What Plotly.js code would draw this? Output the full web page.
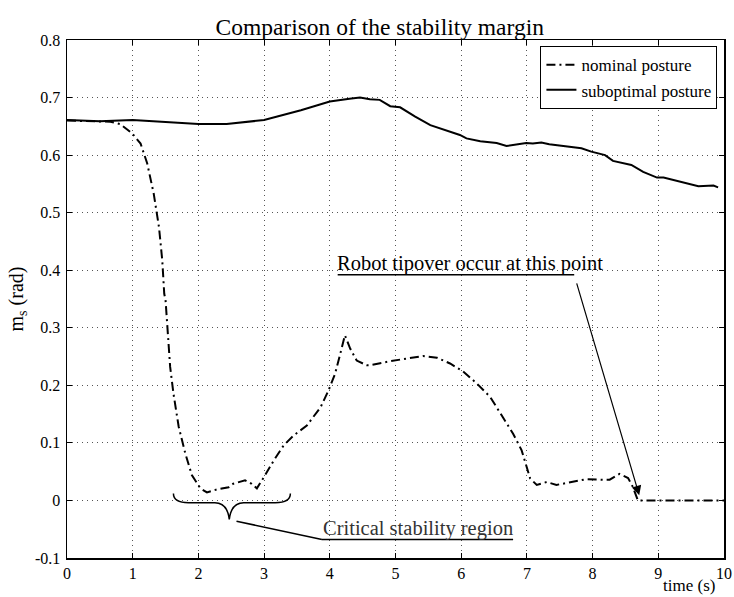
<!DOCTYPE html>
<html>
<head>
<meta charset="utf-8">
<script src="https://cdn.plot.ly/plotly-3.0.1.min.js"></script>
<style>
html,body{margin:0;padding:0;background:#fff;}
#chart{width:734px;height:597px;}
</style>
</head>
<body>
<div id="chart"></div>
<script>
// ---- data ----
const nominalTime = [0, 0.3, 0.66, 0.81, 0.99, 1.12, 1.22, 1.32, 1.40, 1.45, 1.48, 1.50, 1.53, 1.57, 1.62, 1.70, 1.80, 1.90, 2.03, 2.13, 2.28, 2.46, 2.53, 2.71, 2.81, 2.89, 3.00, 3.15, 3.30, 3.45, 3.65, 3.86, 3.98, 4.08, 4.16, 4.23, 4.31, 4.41, 4.56, 4.61, 4.92, 5.12, 5.42, 5.63, 5.83, 6.03, 6.24, 6.44, 6.64, 6.79, 6.92, 6.99, 7.05, 7.15, 7.30, 7.45, 7.66, 7.91, 8.16, 8.26, 8.41, 8.54, 8.61, 8.69, 9.0, 9.5, 10.0];
const nominalMargin = [0.660, 0.659, 0.658, 0.654, 0.638, 0.620, 0.586, 0.533, 0.475, 0.417, 0.359, 0.348, 0.290, 0.232, 0.186, 0.128, 0.082, 0.044, 0.021, 0.014, 0.019, 0.023, 0.029, 0.035, 0.029, 0.021, 0.041, 0.070, 0.096, 0.113, 0.130, 0.162, 0.191, 0.220, 0.255, 0.287, 0.264, 0.243, 0.235, 0.235, 0.242, 0.246, 0.251, 0.248, 0.238, 0.224, 0.203, 0.180, 0.142, 0.116, 0.087, 0.058, 0.038, 0.027, 0.032, 0.027, 0.032, 0.037, 0.036, 0.036, 0.046, 0.039, 0.024, 0.000, 0.000, 0.000, 0.000];

const suboptTime = [0, 0.5, 1.0, 1.5, 2.0, 2.43, 3.0, 3.56, 4.0, 4.30, 4.46, 4.61, 4.76, 4.92, 5.07, 5.30, 5.53, 5.98, 6.08, 6.29, 6.54, 6.69, 6.79, 6.99, 7.09, 7.22, 7.34, 7.55, 7.83, 7.98, 8.19, 8.31, 8.46, 8.59, 8.77, 8.98, 9.08, 9.38, 9.61, 9.84, 9.91];
const suboptMargin = [0.661, 0.659, 0.661, 0.657, 0.654, 0.654, 0.661, 0.678, 0.693, 0.698, 0.700, 0.697, 0.696, 0.685, 0.683, 0.667, 0.652, 0.635, 0.629, 0.624, 0.621, 0.616, 0.618, 0.621, 0.620, 0.622, 0.619, 0.616, 0.612, 0.606, 0.600, 0.590, 0.586, 0.583, 0.571, 0.561, 0.561, 0.552, 0.546, 0.547, 0.544];

const xTickVals = [0, 1, 2, 3, 4, 5, 6, 7, 8, 9, 10];
const xTickText = ['0', '1', '2', '3', '4', '5', '6', '7', '8', '9', '10'];
const yTickVals = [-0.1, 0, 0.1, 0.2, 0.3, 0.4, 0.5, 0.6, 0.7, 0.8];
const yTickText = ['-0.1', '0', '0.1', '0.2', '0.3', '0.4', '0.5', '0.6', '0.7', '0.8'];

const FONT = 'Liberation Serif';

const traces = [
  {
    x: nominalTime, y: nominalMargin, type: 'scatter', mode: 'lines',
    name: 'nominal posture',
    line: {color: '#000', width: 2, dash: '9px,4px,2px,4px'}
  },
  {
    x: suboptTime, y: suboptMargin, type: 'scatter', mode: 'lines',
    name: 'suboptimal posture',
    line: {color: '#000', width: 2}
  }
];

const axisCommon = {
  showline: true, linecolor: '#000', linewidth: 1.5, mirror: 'ticks',
  ticks: 'inside', ticklen: 5, tickcolor: '#000', tickwidth: 1,
  showgrid: true, gridcolor: '#555', gridwidth: 1, griddash: '1px,4px',
  zeroline: false,
  tickfont: {family: FONT, size: 16, color: '#000'}
};

const layout = {
  width: 734, height: 597,
  margin: {l: 67, r: 10, t: 40, b: 39},
  paper_bgcolor: '#fff', plot_bgcolor: '#fff',
  font: {family: FONT, color: '#000'},
  title: {text: 'Comparison of the stability margin', font: {family: FONT, size: 23.5, color: '#000'},
          x: 0.476, xref: 'paper', xanchor: 'center', y: 1, yref: 'paper', yanchor: 'bottom', pad: {b: 5}},
  xaxis: Object.assign({}, axisCommon, {
    range: [0, 10], tickmode: 'array', tickvals: xTickVals, ticktext: xTickText, ticklabelstandoff: 0
  }),
  yaxis: Object.assign({}, axisCommon, {
    range: [-0.1, 0.8], tickmode: 'array', tickvals: yTickVals, ticktext: yTickText, ticklabelstandoff: 2,
    title: {text: 'm<sub>s</sub> (rad)', font: {family: FONT, size: 20, color: '#000'}, standoff: 6}
  }),
  showlegend: true,
  legend: {
    x: 0.99, xanchor: 'right', y: 0.988, yanchor: 'top',
    bgcolor: '#fff', bordercolor: '#000', borderwidth: 1,
    font: {family: FONT, size: 17, color: '#000'},
    itemwidth: 30, tracegroupgap: 0
  },
  shapes: [
    // underline of tipover text
    {type: 'line', xref: 'x', yref: 'y', x0: 4.12, y0: 0.392, x1: 7.72, y1: 0.392, line: {color: '#000', width: 1.5}},
    // brace
    {type: 'path', xref: 'x', yref: 'y',
     path: 'M 1.62,0.012 Q 1.62,-0.004 1.85,-0.004 L 2.25,-0.004 Q 2.44,-0.004 2.47,-0.033 Q 2.50,-0.004 2.69,-0.004 L 3.17,-0.004 Q 3.40,-0.004 3.40,0.012',
     line: {color: '#000', width: 1.5}},
    // leader line from brace to text
    {type: 'line', xref: 'x', yref: 'y', x0: 2.58, y0: -0.036, x1: 3.88, y1: -0.068, line: {color: '#000', width: 1.5}},
    // underline of critical text
    {type: 'line', xref: 'x', yref: 'y', x0: 3.88, y0: -0.068, x1: 6.79, y1: -0.068, line: {color: '#000', width: 1.5}}
  ],
  annotations: [
    {text: 'Robot tipover occur at this point', xref: 'x', yref: 'y', x: 4.08, y: 0.392,
     xanchor: 'left', yanchor: 'bottom', showarrow: false, yshift: -2,
     font: {family: FONT, size: 20.5, color: '#000'}},
    {text: ' ', xref: 'x', yref: 'y', x: 8.71, y: 0.009, axref: 'x', ayref: 'y', ax: 7.72, ay: 0.392,
     showarrow: true, arrowhead: 2, arrowsize: 1.6, arrowwidth: 1.2, arrowcolor: '#000', standoff: 0},
    {text: 'Critical stability region', xref: 'x', yref: 'y', x: 3.86, y: -0.068,
     xanchor: 'left', yanchor: 'bottom', showarrow: false, yshift: -2,
     font: {family: FONT, size: 20.5, color: '#333'}},
    {text: 'time (s)', xref: 'paper', yref: 'paper', x: 0.99, y: -0.0755, xanchor: 'right', yanchor: 'bottom',
     showarrow: false, font: {family: FONT, size: 17, color: '#000'}}
  ]
};

Plotly.newPlot('chart', traces, layout, {displayModeBar: false, staticPlot: true});
</script>
</body>
</html>
